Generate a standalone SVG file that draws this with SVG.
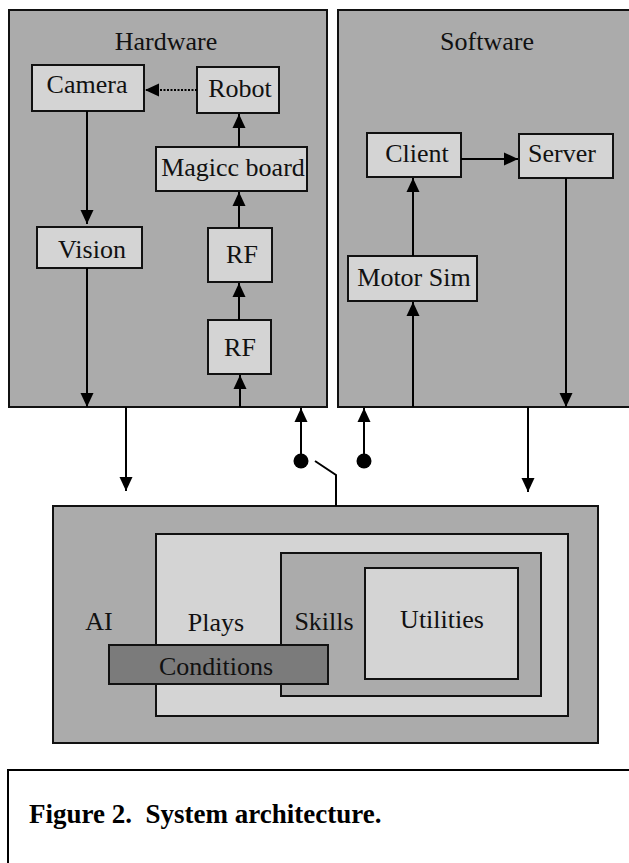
<svg xmlns="http://www.w3.org/2000/svg" width="629" height="863" viewBox="0 0 629 863">
<style>
.outer{fill:#ababab;stroke:#111;stroke-width:2}
.node{fill:#d4d4d4;stroke:#111;stroke-width:2}
.dark{fill:#7b7b7b;stroke:#111;stroke-width:2}
.t{font-family:"Liberation Serif","Times New Roman",serif;font-size:26px;fill:#111;text-anchor:middle}
.cap{font-family:"Liberation Serif","Times New Roman",serif;font-size:27px;font-weight:bold;fill:#000;white-space:pre}
.c{stroke:#000;stroke-width:2;fill:none}
.arr{marker-end:url(#ah)}
.dot{fill:#000}
</style>
<defs>
<marker id="ah" markerUnits="userSpaceOnUse" markerWidth="15" markerHeight="14" refX="14" refY="7" orient="auto">
<path d="M0,0.5 L14,7 L0,13.5 z" fill="#000"/>
</marker>
</defs>
<rect width="629" height="863" fill="#fff"/>

<g id="hardware">
<rect class="outer" x="9" y="10" width="318" height="397"/>
<text class="t" x="166" y="50">Hardware</text>
</g>
<g id="software">
<rect class="outer" x="338" y="10" width="300" height="397"/>
<text class="t" x="487" y="50">Software</text>
</g>

<g id="camera"><rect class="node" x="32" y="65" width="112" height="46"/><text class="t" x="87" y="93">Camera</text></g>
<g id="robot"><rect class="node" x="197" y="67" width="82" height="46"/><text class="t" x="240" y="97">Robot</text></g>
<g id="magicc"><rect class="node" x="156" y="147" width="151" height="44"/><text class="t" x="233" y="176">Magicc board</text></g>
<g id="vision"><rect class="node" x="37" y="227" width="105" height="41"/><text class="t" x="92" y="258">Vision</text></g>
<g id="rf1"><rect class="node" x="208" y="228" width="64" height="54"/><text class="t" x="242" y="263">RF</text></g>
<g id="rf2"><rect class="node" x="208" y="320" width="63" height="54"/><text class="t" x="240" y="356">RF</text></g>

<g id="client"><rect class="node" x="367" y="133" width="94" height="44"/><text class="t" x="417" y="162">Client</text></g>
<g id="server"><rect class="node" x="519" y="134" width="94" height="44"/><text class="t" x="562" y="162">Server</text></g>
<g id="motorsim"><rect class="node" x="348" y="256" width="129" height="45"/><text class="t" x="414" y="286">Motor Sim</text></g>

<g id="ai">
<rect class="outer" x="53" y="506" width="545" height="237"/>
<text class="t" x="99" y="630">AI</text>
</g>
<g id="plays">
<rect class="node" x="156" y="534" width="412" height="182"/>
<text class="t" x="216" y="631">Plays</text>
</g>
<g id="skills">
<rect class="outer" x="281" y="553" width="260" height="143"/>
<text class="t" x="324" y="630">Skills</text>
</g>
<g id="utilities">
<rect class="node" x="365" y="568" width="153" height="111"/>
<text class="t" x="442" y="628">Utilities</text>
</g>
<g id="conditions">
<rect class="dark" x="109" y="645" width="219" height="39"/>
<text class="t" x="216" y="675">Conditions</text>
</g>

<g id="connectors">
<line class="c arr" x1="197" y1="90" x2="145" y2="90" stroke-dasharray="2,1.5" stroke-width="1.5"/>
<line class="c arr" x1="87" y1="111" x2="87" y2="224"/>
<line class="c arr" x1="239" y1="147" x2="239" y2="114"/>
<line class="c arr" x1="239" y1="228" x2="239" y2="192"/>
<line class="c arr" x1="239" y1="320" x2="239" y2="283"/>
<line class="c arr" x1="240" y1="407" x2="240" y2="375"/>
<line class="c arr" x1="87" y1="268" x2="87" y2="407"/>
<line class="c arr" x1="126" y1="407" x2="126" y2="491"/>
<line class="c arr" x1="461" y1="159" x2="518" y2="159"/>
<line class="c arr" x1="413" y1="256" x2="413" y2="178"/>
<line class="c arr" x1="413" y1="407" x2="413" y2="302"/>
<line class="c arr" x1="566" y1="178" x2="566" y2="407"/>
<line class="c arr" x1="528" y1="407" x2="528" y2="492"/>
<line class="c arr" x1="301" y1="461" x2="301" y2="408"/>
<line class="c arr" x1="364" y1="461" x2="364" y2="408"/>
<circle class="dot" cx="301" cy="461" r="7.5"/>
<circle class="dot" cx="364" cy="461" r="7.5"/>
<polyline class="c" points="315,461 336,475 336,506"/>
</g>

<g id="caption">
<polyline class="c" points="640,770 8,770 8,870"/>
<text class="cap" x="29" y="823">Figure 2.  System architecture.</text>
</g>
</svg>
